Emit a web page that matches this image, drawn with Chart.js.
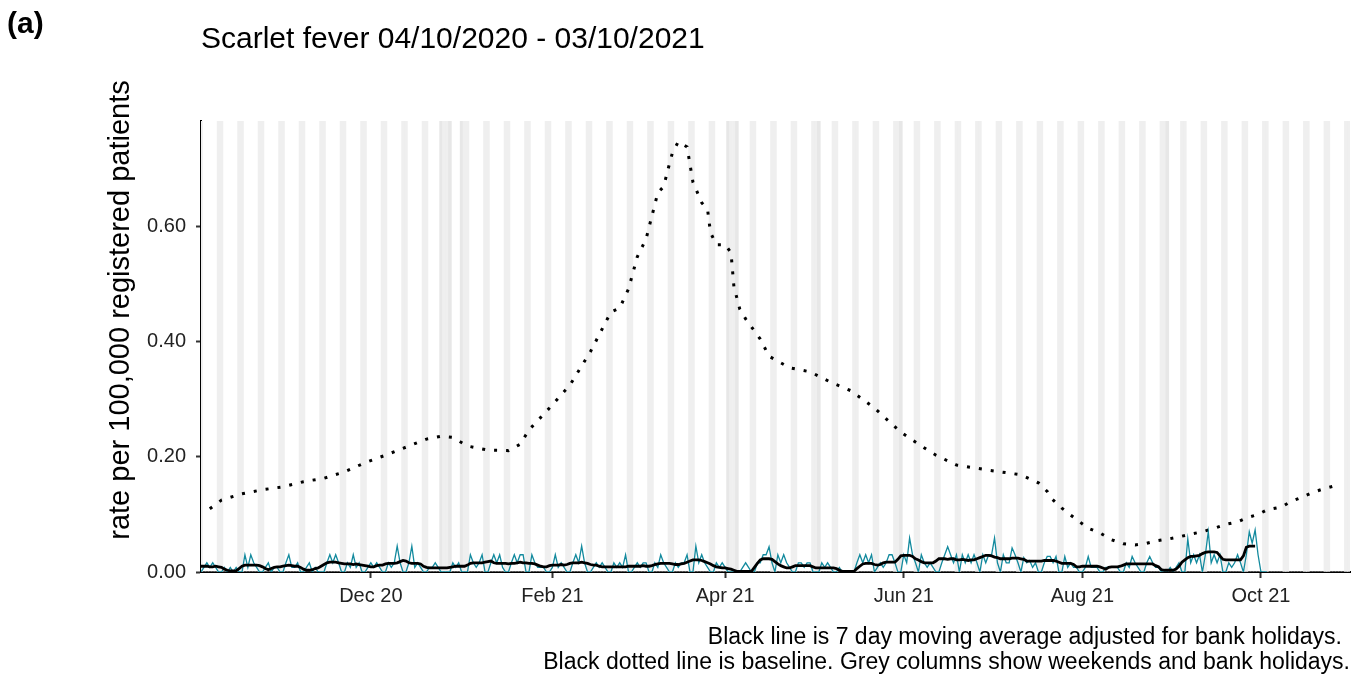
<!DOCTYPE html>
<html><head><meta charset="utf-8">
<script src="https://cdn.jsdelivr.net/npm/chart.js@4.4.1/dist/chart.umd.min.js"></script>
<style>html,body{margin:0;padding:0;background:#fff;}canvas{display:block;}</style>
</head><body>
<canvas id="c" width="1362" height="675"></canvas>
<script>
const startDate = '2020-10-04';
const panelLabel = '(a)';
const chartTitle = 'Scarlet fever 04/10/2020 - 03/10/2021';
const yTitle = 'rate per 100,000 registered patients';
const captionLines = ['Black line is 7 day moving average adjusted for bank holidays.',
  'Black dotted line is baseline. Grey columns show weekends and bank holidays.'];

// daily rate (teal), one value per day from 04/10/2020
const dailyRate = [
 0,0.008,0.016,0.008,0.016,0.008,0,
 0,0.008,0,0.008,0,0.008,0,
 0,0.03,0.008,0.03,0.016,0.008,0,
 0,0.008,0.016,0,0.008,0.008,0,
 0,0.016,0.03,0.008,0.008,0.016,0,
 0,0.008,0.016,0,0.008,0,0,
 0,0.016,0.03,0.016,0.03,0.016,0,
 0,0.016,0.008,0.03,0.008,0.016,0,
 0,0.008,0.016,0.008,0.016,0.008,0,
 0,0.016,0.008,0.016,0.045,0.016,0,
 0,0.016,0.045,0.008,0.016,0.008,0,
 0,0.008,0.008,0.016,0.008,0,0,
 0,0,0.016,0.008,0.016,0,0,
 0,0.03,0.016,0.008,0.016,0.03,0,
 0,0.016,0.03,0.016,0.03,0.008,0,
 0,0.016,0.03,0.016,0.03,0.03,0,
 0,0.03,0.016,0.008,0.008,0.008,0,
 0,0.008,0.03,0.008,0.016,0.008,0,
 0,0.016,0.03,0.016,0.045,0.016,0,
 0,0.008,0.016,0.008,0.016,0.008,0,
 0,0.016,0.008,0.016,0.008,0.03,0,
 0,0.008,0.016,0.008,0.016,0.016,0,
 0,0.016,0.008,0.03,0.016,0.008,0,
 0,0.016,0.008,0.016,0.016,0.03,0,
 0,0.045,0.016,0.03,0.016,0.008,0,
 0,0.016,0.008,0.016,0.008,0,0,
 0,0,0,0.008,0.016,0.008,0,
 0,0.016,0.016,0.03,0.03,0.044,0.016,
 0,0.03,0.016,0.03,0.016,0.008,0,
 0,0.016,0.016,0.008,0.016,0.016,0,
 0,0,0.016,0.008,0.016,0.008,0,
 0,0.008,0,0,0,0,0,
 0.016,0.03,0.016,0.03,0.016,0.03,0,
 0.008,0.016,0.008,0.016,0.03,0.03,0.016,
 0,0,0.03,0.016,0.059,0.03,0.016,
 0,0.03,0.016,0.008,0.016,0.008,0,
 0,0.016,0.03,0.044,0.03,0.016,0.03,
 0,0.03,0.016,0.03,0.016,0.03,0.016,
 0,0.03,0.016,0.03,0.03,0.059,0.016,
 0,0.03,0.016,0.016,0.042,0.03,0.016,
 0,0.025,0.016,0.02,0.008,0.016,0,
 0,0.016,0.027,0.027,0.016,0.027,0,
 0,0.027,0.008,0.016,0.008,0.008,0,
 0,0.008,0.027,0.008,0.008,0.008,0,
 0,0.008,0.008,0.008,0.008,0.008,0,
 0,0.016,0.008,0.027,0.016,0.008,0,
 0,0.016,0.027,0.016,0.008,0.008,0,
 0,0,0.008,0,0.008,0.016,0,
 0,0.058,0.016,0.03,0.016,0.03,0,
 0.03,0.07,0.016,0.03,0.016,0.03,0,
 0,0.016,0.008,0.016,0.03,0.016,0,
 0.03,0.07,0.05,0.073,0.03,0,0,
 0
];

// 7 day moving average (black), one value per day from 04/10/2020
const movingAverage = [
 0.01,0.01,0.01,0.009,0.009,0.01,0.009,
 0.008,0.005,0.003,0.002,0.002,0.002,0.006,
 0.01,0.012,0.012,0.012,0.012,0.012,0.011,
 0.009,0.006,0.004,0.006,0.008,0.009,0.009,
 0.01,0.011,0.012,0.011,0.01,0.01,0.008,
 0.005,0.003,0.003,0.004,0.006,0.007,0.01,
 0.013,0.016,0.017,0.017,0.017,0.016,0.015,
 0.014,0.014,0.014,0.013,0.014,0.013,0.012,
 0.011,0.01,0.009,0.009,0.011,0.012,0.012,
 0.014,0.015,0.015,0.015,0.016,0.018,0.02,
 0.019,0.016,0.015,0.015,0.015,0.014,0.01,
 0.008,0.007,0.007,0.007,0.007,0.007,0.007,
 0.007,0.008,0.009,0.01,0.01,0.01,0.01,
 0.012,0.015,0.016,0.016,0.016,0.016,0.017,
 0.018,0.019,0.016,0.015,0.015,0.015,0.015,
 0.014,0.015,0.015,0.016,0.017,0.016,0.016,
 0.015,0.015,0.014,0.012,0.01,0.009,0.009,
 0.011,0.012,0.012,0.012,0.013,0.012,0.013,
 0.015,0.016,0.016,0.016,0.017,0.016,0.015,
 0.013,0.012,0.012,0.01,0.009,0.009,0.009,
 0.009,0.009,0.009,0.009,0.009,0.009,0.01,
 0.01,0.01,0.01,0.01,0.011,0.01,0.01,
 0.011,0.013,0.014,0.015,0.015,0.015,0.015,
 0.014,0.013,0.013,0.014,0.015,0.017,0.019,
 0.021,0.021,0.021,0.02,0.018,0.016,0.014,
 0.011,0.009,0.008,0.007,0.007,0.006,0.005,
 0.003,0.001,0.001,0.001,0.001,0.001,0.001,
 0.008,0.015,0.021,0.023,0.023,0.023,0.022,
 0.018,0.014,0.011,0.009,0.007,0.007,0.009,
 0.011,0.011,0.011,0.011,0.011,0.011,0.009,
 0.007,0.007,0.007,0.007,0.007,0.007,0.007,
 0.006,0.003,0.001,0.001,0.001,0.001,0.001,
 0.006,0.01,0.014,0.015,0.015,0.015,0.013,
 0.012,0.013,0.016,0.017,0.017,0.017,0.017,
 0.022,0.028,0.029,0.029,0.029,0.027,0.023,
 0.021,0.018,0.016,0.016,0.016,0.016,0.019,
 0.023,0.023,0.023,0.022,0.023,0.023,0.021,
 0.021,0.022,0.021,0.02,0.021,0.021,0.023,
 0.025,0.027,0.029,0.029,0.028,0.026,0.025,
 0.023,0.023,0.023,0.023,0.024,0.024,0.024,
 0.023,0.022,0.019,0.019,0.019,0.019,0.019,
 0.019,0.02,0.02,0.02,0.02,0.019,0.017,
 0.015,0.015,0.015,0.015,0.013,0.009,0.009,
 0.01,0.01,0.01,0.01,0.01,0.01,0.009,
 0.007,0.005,0.008,0.009,0.009,0.009,0.01,
 0.012,0.014,0.014,0.014,0.014,0.014,0.014,
 0.014,0.014,0.014,0.014,0.011,0.009,0.004,
 0.003,0.003,0.003,0.003,0.005,0.01,0.017,
 0.021,0.025,0.027,0.027,0.028,0.029,0.032,
 0.034,0.035,0.035,0.035,0.034,0.028,0.022,
 0.021,0.021,0.021,0.021,0.021,0.021,0.028,
 0.043,0.045,0.045,0.045
];

// baseline (dotted): day offset from 04/10/2020 and rate
const baselineDay = [3,7,14,21,28,35,42,49,56,63,70,77,82,86,91,98,105,109,112,119,126,133,140,143,146,149,152,154,156,158,160,161,163,166,168,171,173,174,176,179,181,182,184,186,191,194,201,208,215,222,230,239,246,251,258,269,280,286,289,290,294,297,303,307,311,315,319,323,326,331,334,338,342,346,350,354,357,361,364,369,372,376,379,383,388];
const baselineRate = [0.11,0.125,0.136,0.143,0.148,0.157,0.163,0.174,0.19,0.203,0.217,0.231,0.236,0.234,0.219,0.212,0.211,0.222,0.247,0.285,0.325,0.383,0.452,0.459,0.492,0.548,0.579,0.619,0.659,0.67,0.71,0.729,0.748,0.739,0.678,0.642,0.63,0.59,0.569,0.569,0.555,0.496,0.457,0.44,0.405,0.375,0.355,0.348,0.33,0.315,0.285,0.243,0.219,0.203,0.186,0.177,0.169,0.155,0.14,0.13,0.111,0.099,0.076,0.068,0.056,0.049,0.047,0.05,0.054,0.058,0.061,0.066,0.07,0.076,0.083,0.087,0.094,0.1,0.108,0.113,0.122,0.13,0.137,0.144,0.151];

const bankHolidays = ['2020-12-25','2020-12-28','2021-01-01','2021-04-02','2021-04-05','2021-05-03','2021-05-31','2021-08-30'];
const xTickDates = ['2020-12-01','2021-02-01','2021-04-01','2021-06-01','2021-08-01','2021-10-01'];
const xTickLabels = ['Dec 20','Feb 21','Apr 21','Jun 21','Aug 21','Oct 21'];
const yTickValues = [0, 0.2, 0.4, 0.6];
const yTickLabels = ['0.00','0.20','0.40','0.60'];
const yMax = 0.784;
const xEndDay = 392.4;

function dayIndex(s){
  const p = s.split('-').map(Number), q = startDate.split('-').map(Number);
  return Math.round((Date.UTC(p[0],p[1]-1,p[2]) - Date.UTC(q[0],q[1]-1,q[2]))/86400000);
}
const startDow = new Date(startDate + 'T00:00:00Z').getUTCDay();
const bhDays = new Set(bankHolidays.map(dayIndex));
const xTickDays = xTickDates.map(dayIndex);

const colDays = [];
for (let d = 0; d <= Math.ceil(xEndDay); d++) colDays.push(d);
const isWeekend = d => { const w = (startDow + d) % 7; return w === 0 || w === 6; };
const columnData = colDays.map(d => ({x: d, y: (isWeekend(d) || bhDays.has(d)) ? yMax : 0}));
const columnColors = colDays.map(d => bhDays.has(d) ? '#e7e7e7' : '#efefef');

const FONT = "'Liberation Sans', Arial, sans-serif";

const textPlugin = {
  id: 'texts',
  afterDraw(chart) {
    const ctx = chart.ctx;
    ctx.save();
    ctx.fillStyle = '#000';
    ctx.textBaseline = 'alphabetic';
    ctx.textAlign = 'left';
    ctx.font = 'bold 30px ' + FONT;
    ctx.fillText(panelLabel, 7, 33);
    ctx.font = '30px ' + FONT;
    ctx.fillText(chartTitle, 201, 48);
    ctx.font = '23px ' + FONT;
    ctx.textAlign = 'right';
    ctx.fillText(captionLines[0], 1342, 644);
    ctx.fillText(captionLines[1], 1350, 669);
    ctx.translate(129, 310);
    ctx.rotate(-Math.PI/2);
    ctx.textAlign = 'center';
    ctx.font = '29px ' + FONT;
    ctx.fillText(yTitle, 0, 0);
    ctx.restore();
  }
};

new Chart(document.getElementById('c'), {
  data: {
    datasets: [
      { type: 'line', label: 'baseline', data: baselineDay.map((d,i)=>({x:d, y:baselineRate[i]})),
        borderColor: '#000', borderWidth: 3, borderDash: [3, 9], pointRadius: 0, tension: 0, order: 3 },
      { type: 'line', label: 'daily', data: dailyRate.map((v,i)=>({x:i, y:v})),
        borderColor: '#138a9e', borderWidth: 1.3, pointRadius: 0, tension: 0, order: 2 },
      { type: 'line', label: 'ma', data: movingAverage.map((v,i)=>({x:i, y:v})),
        borderColor: '#000', borderWidth: 2.8, pointRadius: 0, tension: 0, order: 1 },
      { type: 'bar', label: 'columns', data: columnData, backgroundColor: columnColors,
        borderWidth: 0, barPercentage: 1, categoryPercentage: 1, grouped: false, order: 10 }
    ]
  },
  options: {
    responsive: false, animation: false, devicePixelRatio: 1,
    layout: { padding: { left: 0, right: 12, top: 121, bottom: 0 } },
    plugins: { legend: { display: false }, tooltip: { enabled: false }, title: { display: false } },
    scales: {
      x: {
        type: 'linear', min: 0, max: xEndDay, offset: false,
        afterBuildTicks: s => { s.ticks = xTickDays.map(v => ({value: v})); },
        afterFit: s => { s.height = 103; },
        ticks: { autoSkip: false, maxRotation: 0, padding: 6, color: '#222',
          font: { family: FONT, size: 20 },
          callback: (v) => { const i = xTickDays.indexOf(v); return i >= 0 ? xTickLabels[i] : ''; } },
        grid: { offset: false, drawOnChartArea: false, drawTicks: true, tickLength: 6, color: '#333', tickWidth: 2 },
        border: { display: true, color: '#000', width: 2 }
      },
      y: {
        type: 'linear', min: 0, max: yMax,
        afterBuildTicks: s => { s.ticks = yTickValues.map(v => ({value: v})); },
        afterFit: s => { s.width = 201; },
        ticks: { padding: 10, color: '#222', font: { family: FONT, size: 20 },
          callback: (v) => { const i = yTickValues.indexOf(v); return i >= 0 ? yTickLabels[i] : ''; } },
        grid: { drawOnChartArea: false, drawTicks: true, tickLength: 5, color: '#333', tickWidth: 2 },
        border: { display: true, color: '#000', width: 2 }
      }
    }
  },
  plugins: [textPlugin]
});
</script>
</body></html>
